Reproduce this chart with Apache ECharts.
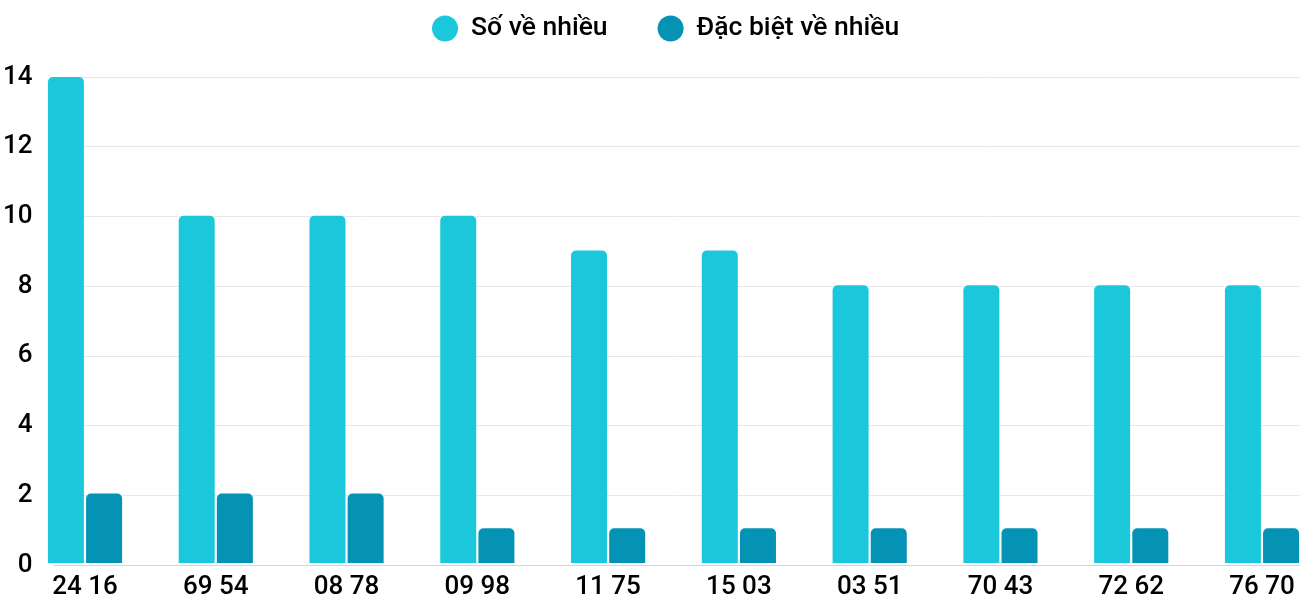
<!DOCTYPE html>
<html><head><meta charset="utf-8">
<script src="https://cdn.jsdelivr.net/npm/echarts@6/dist/echarts.min.js"></script>
<style>html,body{margin:0;padding:0;background:#fff}#c{width:1300px;height:600px}</style>
</head><body><div id="c"></div>
<script>
var categories = ["24 16","69 54","08 78","09 98","11 75","15 03","03 51","70 43","72 62","76 70"];
var soVeNhieu = [14,10,10,10,9,9,8,8,8,8];
var dacBietVeNhieu = [2,2,2,1,1,1,1,1,1,1];
var seriesNames = ["Số về nhiều","Đặc biệt về nhiều"];
var colors = ["#1bc8db","#0492b5"];
var font = "Roboto";
var chart = echarts.init(document.getElementById('c'));
chart.setOption({
  animation:false,
  textStyle:{fontFamily:font},
  legend:{
    top:10, left:427, icon:'circle', itemWidth:26, itemHeight:26, itemGap:50,
    textStyle:{fontSize:26.5, fontWeight:500, color:'#000', fontFamily:font, padding:[0,0,0,8]},
    data:seriesNames
  },
  grid:[
    {left:85, right:38, top:77, bottom:35},
    {left:48, right:0, top:77, bottom:35}
  ],
  xAxis:[
    {type:'category', gridIndex:0, data:categories, boundaryGap:false, axisLine:{show:false}, axisTick:{show:false},
     axisLabel:{fontSize:26, fontWeight:500, color:'#000', margin:11, fontFamily:font}},
    {type:'category', gridIndex:1, data:categories, axisLine:{show:true, lineStyle:{color:'#d6d6d6', width:1}},
     axisTick:{show:false}, axisLabel:{show:false}}
  ],
  yAxis:[
    {type:'value', gridIndex:0, min:0, max:14, interval:2, show:false, splitLine:{show:false}},
    {type:'value', gridIndex:1, min:0, max:14, interval:2,
     axisLabel:{fontSize:26, fontWeight:500, color:'#000', margin:21, fontFamily:font},
     axisLine:{show:false}, axisTick:{show:false},
     splitLine:{lineStyle:{color:'#e8e8e8', width:1}}}
  ],
  series:[
    {name:seriesNames[0], type:'bar', xAxisIndex:0, yAxisIndex:0, data:soVeNhieu, barWidth:36, barGap:'6%', clip:false,
     itemStyle:{color:colors[0], borderRadius:[5,5,0,0]}},
    {name:seriesNames[1], type:'bar', xAxisIndex:0, yAxisIndex:0, data:dacBietVeNhieu, barWidth:36, barGap:'6%', clip:false,
     itemStyle:{color:colors[1], borderRadius:[5,5,0,0]}}
  ]
});
</script></body></html>
